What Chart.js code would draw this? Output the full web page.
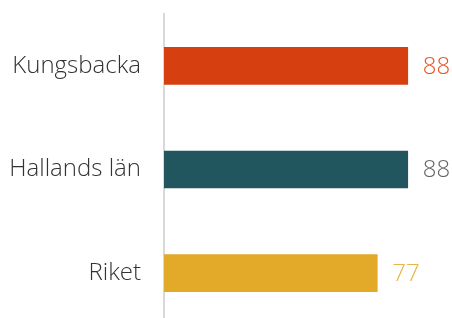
<!DOCTYPE html>
<html>
<head>
<meta charset="utf-8">
<script src="https://cdn.jsdelivr.net/npm/chart.js@4"></script>
<style>
  html, body { margin: 0; padding: 0; background: #fff; overflow: hidden; }
  canvas { display: block; }
</style>
</head>
<body>
<canvas id="chart" width="452" height="325"></canvas>
<script>
const categories = ["Kungsbacka", "Hallands län", "Riket"];
const values = [88, 88, 77];
const barColors = ["#d63f10", "#21565f", "#e3a928"];
const labelColors = ["#e2582a", "#666666", "#e8b548"];

const FONT = "'Open Sans', sans-serif";

// value labels right of each bar
const valueLabels = {
  id: "valueLabels",
  afterDatasetsDraw(chart) {
    const ctx = chart.ctx;
    const meta = chart.getDatasetMeta(0);
    ctx.save();
    ctx.font = `300 24px ${FONT}`;
    ctx.textAlign = "left";
    ctx.textBaseline = "middle";
    meta.data.forEach((bar, i) => {
      ctx.fillStyle = labelColors[i];
      ctx.fillText(values[i], bar.x + 15, bar.y + 1);
    });
    ctx.restore();
  },
};

new Chart(document.getElementById("chart"), {
  type: "bar",
  data: {
    labels: categories,
    datasets: [{
      data: values,
      backgroundColor: barColors,
      barThickness: 37,
    }],
  },
  options: {
    indexAxis: "y",
    responsive: false,
    animation: false,
    layout: { padding: { top: 14, right: 11, bottom: 0, left: 0 } },
    scales: {
      x: { display: false, min: 0, max: 100 },
      y: {
        afterFit: (s) => {
          s.width = 164;
          s.paddingTop = 0;
          s.paddingBottom = 0;
        },
        grid: { display: false },
        border: { display: true, color: "#d9d9d9", width: 2 },
        ticks: {
          color: "#333333",
          padding: 15,
          font: { family: FONT, size: 24, weight: 300 },
        },
      },
    },
    plugins: {
      legend: { display: false },
      tooltip: { enabled: false },
    },
  },
  plugins: [valueLabels],
});
</script>
</body>
</html>
